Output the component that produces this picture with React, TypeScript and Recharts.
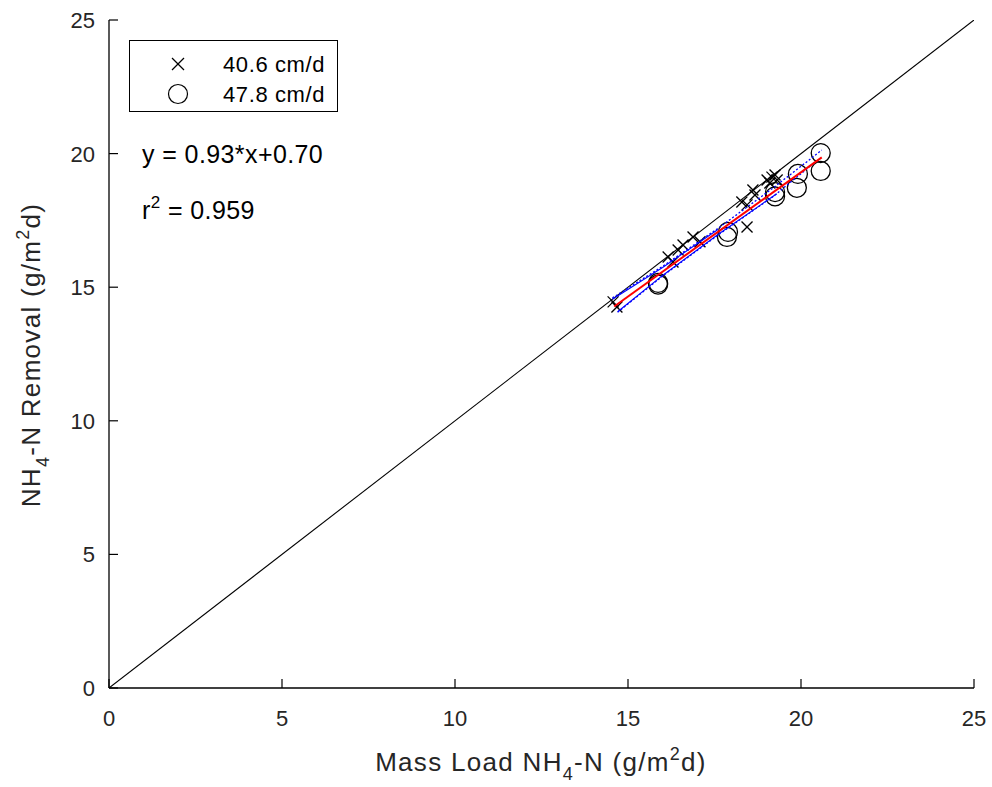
import React from 'react';
import { ComposedChart, Scatter, XAxis, YAxis, Customized } from 'recharts';

// ---- data ----
const axisTicks = [0, 5, 10, 15, 20, 25];

const cross406X = [14.57, 14.68, 16.16, 16.30, 16.45, 16.59, 16.88, 17.08, 18.29, 18.44, 18.61, 18.67, 18.44, 19.02, 19.16, 19.25, 19.31, 19.10];
const cross406Y = [14.45, 14.26, 16.13, 15.94, 16.39, 16.58, 16.88, 16.70, 18.19, 18.08, 18.64, 18.45, 17.25, 19.01, 19.12, 19.20, 19.01, 18.90];

const circle478X = [15.87, 15.87, 17.86, 17.89, 19.25, 19.25, 19.88, 19.91, 20.57, 20.57];
const circle478Y = [15.10, 15.16, 16.88, 17.07, 18.40, 18.56, 18.72, 19.24, 19.35, 20.02];

const identityX = [0, 25];
const identityY = [0, 25];

const fitX = [14.6, 20.6];
const fitY = [14.28, 19.86];

const bandUpperX = [14.55, 16.0, 17.6, 19.2, 20.6];
const bandUpperY = [14.6, 15.78, 17.2, 18.72, 20.13];
const bandLowerX = [14.7, 16.0, 17.6, 19.2, 20.35];
const bandLowerY = [14.06, 15.42, 16.95, 18.4, 19.62];
const bandUpperSolidX = [14.55, 16.0, 17.6];
const bandUpperSolidY = [14.55, 15.74, 17.16];
const bandLowerSolidX = [14.7, 16.0, 17.6, 19.3];
const bandLowerSolidY = [14.08, 15.44, 16.97, 18.5];

const seriesNames = ['40.6 cm/d', '47.8 cm/d'];
const equationText = 'y = 0.93*x+0.70';
const r2Text = '0.959';

const toPts = (xs: number[], ys: number[]) => xs.map((x, i) => ({ x, y: ys[i] }));

const FONT = '"Liberation Sans", Arial, Helvetica, sans-serif';

const CrossShape = (props: any) => {
  const { cx, cy } = props;
  if (cx == null || cy == null) return <g />;
  const s = 5.5;
  return (
    <g stroke="#000" strokeWidth={1.3}>
      <line x1={cx - s} y1={cy - s} x2={cx + s} y2={cy + s} />
      <line x1={cx - s} y1={cy + s} x2={cx + s} y2={cy - s} />
    </g>
  );
};

const CircleShape = (props: any) => {
  const { cx, cy } = props;
  if (cx == null || cy == null) return <g />;
  return <circle cx={cx} cy={cy} r={9.5} fill="none" stroke="#000" strokeWidth={1.3} />;
};

const NoShape = () => <g />;

const TICK = 9;

const BottomTick = (props: any) => {
  const { x, y, payload } = props;
  return (
    <g>
      <line x1={x} y1={y} x2={x} y2={y - TICK} stroke="#000" strokeWidth={1.2} />
      <text x={x} y={y + 38} textAnchor="middle" fontSize={22} fontFamily={FONT} fill="#262626">
        {payload.value}
      </text>
    </g>
  );
};

const LeftTick = (props: any) => {
  const { x, y, payload } = props;
  return (
    <g>
      <line x1={x} y1={y} x2={x + TICK} y2={y} stroke="#000" strokeWidth={1.2} />
      <text x={x - 14} y={y + 8} textAnchor="end" fontSize={22} fontFamily={FONT} fill="#262626">
        {payload.value}
      </text>
    </g>
  );
};

const TopTick = (props: any) => {
  const { x, y } = props;
  return <line x1={x} y1={y} x2={x} y2={y + TICK} stroke="#000" strokeWidth={1.2} />;
};

const RightTick = (props: any) => {
  const { x, y } = props;
  return <line x1={x} y1={y} x2={x - TICK} y2={y} stroke="#000" strokeWidth={1.2} />;
};

const LegendBox = () => (
  <div
    style={{
      position: 'absolute',
      left: 129,
      top: 40,
      width: 209,
      height: 72,
      border: '1px solid #000',
      background: '#fff',
      boxSizing: 'border-box',
      fontFamily: FONT,
    }}
  >
    <svg width={207} height={70} style={{ display: 'block' }}>
      <g stroke="#000" strokeWidth={1.2}>
        <line x1={42} y1={17} x2={54} y2={29} />
        <line x1={42} y1={29} x2={54} y2={17} />
      </g>
      <circle cx={48} cy={53} r={9.5} fill="none" stroke="#000" strokeWidth={1.2} />
      <text x={93} y={31} fontSize={22} fill="#000" fontFamily={FONT} letterSpacing={0.6}>{seriesNames[0]}</text>
      <text x={93} y={61} fontSize={22} fill="#000" fontFamily={FONT} letterSpacing={0.6}>{seriesNames[1]}</text>
    </svg>
  </div>
);

const Annotations = () => (
  <g fontFamily={FONT} fill="#000">
    <text x={142} y={163} fontSize={25} letterSpacing={0.4}>{equationText}</text>
    <text x={142} y={219} fontSize={25} letterSpacing={0.4}>
      r<tspan dy={-11} fontSize={17}>2</tspan>
      <tspan dy={11}>{' = ' + r2Text}</tspan>
    </text>
    <text x={541} y={771} fontSize={26} textAnchor="middle" fill="#262626" letterSpacing={1.3}>
      Mass Load NH<tspan dy={9} fontSize={18}>4</tspan>
      <tspan dy={-9}>-N (g/m</tspan>
      <tspan dy={-11} fontSize={18}>2</tspan>
      <tspan dy={11}>d)</tspan>
    </text>
    <text
      x={0}
      y={0}
      fontSize={26}
      textAnchor="middle"
      fill="#262626"
      letterSpacing={1.3}
      transform="translate(40,355) rotate(-90)"
    >
      NH<tspan dy={9} fontSize={18}>4</tspan>
      <tspan dy={-9}>-N Removal (g/m</tspan>
      <tspan dy={-11} fontSize={18}>2</tspan>
      <tspan dy={11}>d)</tspan>
    </text>
  </g>
);

export default function App() {
  return (
    <div style={{ position: 'absolute', left: 0, top: 0, width: 992, height: 787, background: '#fff' }}>
      <ComposedChart width={992} height={787} margin={{ top: 20, right: 18, bottom: 0, left: 0 }}>
        <XAxis
          xAxisId="b"
          type="number"
          dataKey="x"
          domain={[0, 25]}
          ticks={axisTicks}
          orientation="bottom"
          height={99}
          tickSize={0}
          tickMargin={0}
          tick={<BottomTick />}
          axisLine={{ stroke: '#000', strokeWidth: 1.3 }}
          allowDataOverflow
        />
        <XAxis
          xAxisId="t"
          type="number"
          dataKey="x"
          domain={[0, 25]}
          ticks={axisTicks}
          orientation="top"
          height={0}
          tickSize={0}
          tickMargin={0}
          tick={<TopTick />}
          axisLine={{ stroke: '#000', strokeWidth: 1.3 }}
          allowDataOverflow
        />
        <YAxis
          yAxisId="l"
          type="number"
          dataKey="y"
          domain={[0, 25]}
          ticks={axisTicks}
          orientation="left"
          width={109}
          tickSize={0}
          tickMargin={0}
          tick={<LeftTick />}
          axisLine={{ stroke: '#000', strokeWidth: 1.3 }}
          allowDataOverflow
        />
        <YAxis
          yAxisId="r"
          type="number"
          dataKey="y"
          domain={[0, 25]}
          ticks={axisTicks}
          orientation="right"
          width={0}
          tickSize={0}
          tickMargin={0}
          tick={<RightTick />}
          axisLine={{ stroke: '#000', strokeWidth: 1.3 }}
          allowDataOverflow
        />
        <Scatter
          xAxisId="b"
          yAxisId="l"
          data={toPts(identityX, identityY)}
          line={{ stroke: '#000', strokeWidth: 1.1 }}
          shape={<NoShape />}
          legendType="none"
          isAnimationActive={false}
        />
        <Scatter
          xAxisId="b"
          yAxisId="l"
          name={seriesNames[0]}
          data={toPts(cross406X, cross406Y)}
          shape={<CrossShape />}
          isAnimationActive={false}
        />
        <Scatter
          xAxisId="b"
          yAxisId="l"
          name={seriesNames[1]}
          data={toPts(circle478X, circle478Y)}
          shape={<CircleShape />}
          isAnimationActive={false}
        />
        <Scatter
          xAxisId="b"
          yAxisId="l"
          data={toPts(bandUpperX, bandUpperY)}
          line={{ stroke: '#0000ff', strokeWidth: 1.3, strokeDasharray: '2 2' }}
          shape={<NoShape />}
          legendType="none"
          isAnimationActive={false}
        />
        <Scatter
          xAxisId="b"
          yAxisId="l"
          data={toPts(bandLowerX, bandLowerY)}
          line={{ stroke: '#0000ff', strokeWidth: 1.3, strokeDasharray: '2 2' }}
          shape={<NoShape />}
          legendType="none"
          isAnimationActive={false}
        />
        <Scatter
          xAxisId="b"
          yAxisId="l"
          data={toPts(bandUpperSolidX, bandUpperSolidY)}
          line={{ stroke: '#0000ff', strokeWidth: 1.1 }}
          shape={<NoShape />}
          legendType="none"
          isAnimationActive={false}
        />
        <Scatter
          xAxisId="b"
          yAxisId="l"
          data={toPts(bandLowerSolidX, bandLowerSolidY)}
          line={{ stroke: '#0000ff', strokeWidth: 1.1 }}
          shape={<NoShape />}
          legendType="none"
          isAnimationActive={false}
        />
        <Scatter
          xAxisId="b"
          yAxisId="l"
          data={toPts(fitX, fitY)}
          line={{ stroke: '#ff0000', strokeWidth: 2 }}
          shape={<NoShape />}
          legendType="none"
          isAnimationActive={false}
        />
        <Customized component={<Annotations />} />
      </ComposedChart>
      <LegendBox />
    </div>
  );
}
